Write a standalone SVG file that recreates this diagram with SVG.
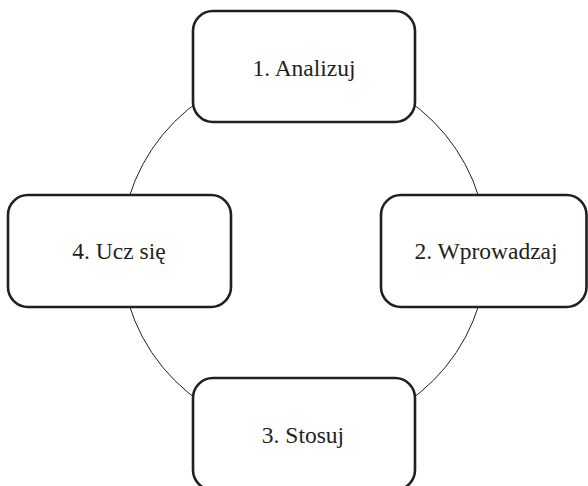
<svg xmlns="http://www.w3.org/2000/svg" width="588" height="486" viewBox="0 0 588 486">
<style>
.box{fill:#fff;stroke:#231f20;stroke-width:2.6}
.lbl{font-family:"Liberation Serif","Times New Roman",serif;font-size:23.5px;fill:#231f20;text-anchor:middle}
.ring{fill:none;stroke:#231f20;stroke-width:1}
</style>
<rect width="588" height="486" fill="#fff"/>
<g id="connectors">
<circle class="ring" cx="304" cy="251" r="183"/>
</g>
<g id="node1">
<rect class="box" x="193" y="11" width="222" height="111" rx="20"/>
<text class="lbl" x="304" y="76">1. Analizuj</text>
</g>
<g id="node2">
<rect class="box" x="381" y="195" width="205.5" height="112" rx="20"/>
<text class="lbl" x="486" y="259">2. Wprowadzaj</text>
</g>
<g id="node3">
<rect class="box" x="193" y="378" width="222" height="112" rx="20"/>
<text class="lbl" x="303" y="443">3. Stosuj</text>
</g>
<g id="node4">
<rect class="box" x="8" y="195" width="223" height="112" rx="20"/>
<text class="lbl" x="119" y="259">4. Ucz się</text>
</g>
</svg>
